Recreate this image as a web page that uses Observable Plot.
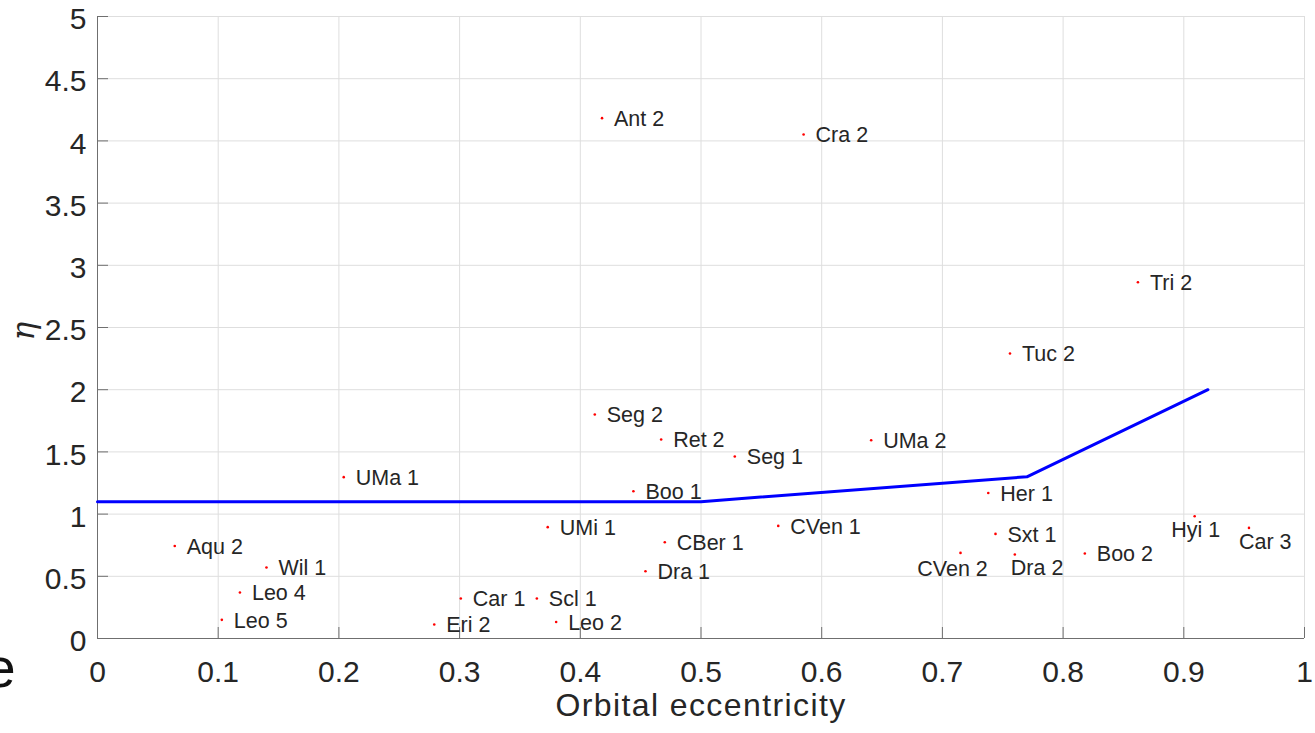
<!DOCTYPE html>
<html>
<head>
<meta charset="utf-8">
<script src="https://cdn.jsdelivr.net/npm/d3@7"></script>
<script src="https://cdn.jsdelivr.net/npm/@observablehq/plot@0.6"></script>
<style>
  html, body { margin: 0; padding: 0; background: #fff; }
  #chart svg { font-family: "Liberation Sans", Arial, Helvetica, sans-serif; display: block; }
</style>
</head>
<body>
<div id="chart"></div>
<script>
// Galaxy names, orbital eccentricity and eta values
const names = ["Aqu 2","Wil 1","Leo 4","Leo 5","Eri 2","Car 1","Scl 1","Leo 2","UMi 1","Dra 1","CBer 1","Boo 1","Seg 2","Ret 2","Seg 1","UMa 1","CVen 1","UMa 2","Ant 2","Cra 2","Tri 2","Tuc 2","Her 1","Sxt 1","CVen 2","Dra 2","Boo 2","Hyi 1","Car 3"];
const ecc   = [0.064,0.140,0.118,0.103,0.279,0.301,0.364,0.380,0.373,0.454,0.470,0.444,0.412,0.467,0.528,0.204,0.564,0.641,0.418,0.585,0.862,0.756,0.738,0.744,0.715,0.760,0.818,0.909,0.954];
const eta   = [0.744,0.571,0.370,0.150,0.113,0.322,0.322,0.133,0.895,0.541,0.774,1.184,1.801,1.600,1.463,1.297,0.905,1.594,4.183,4.051,2.864,2.291,1.170,0.841,0.688,0.675,0.683,0.983,0.889];

// Blue threshold curve
const curveEcc = [0, 0.5, 0.77, 0.92];
const curveEta = [1.1, 1.1, 1.3, 2.0];

// Axis ticks and labels
const xTicks = [0,0.1,0.2,0.3,0.4,0.5,0.6,0.7,0.8,0.9,1];
const xTickLabels = ["0","0.1","0.2","0.3","0.4","0.5","0.6","0.7","0.8","0.9","1"];
const yTicks = [0,0.5,1,1.5,2,2.5,3,3.5,4,4.5,5];
const yTickLabels = ["0","0.5","1","1.5","2","2.5","3","3.5","4","4.5","5"];
const xLabel = "Orbital eccentricity";
const yLabel = "η";
const strayText = "e";

const points = names.map((n, i) => ({name: n, e: ecc[i], eta: eta[i]}));
const curve = curveEcc.map((e, i) => ({e, eta: curveEta[i]}));

const special = ["CVen 2","Dra 2","Hyi 1","Car 3"];
const byName = n => points.filter(p => p.name === n);
const regular = points.filter(p => !special.includes(p.name));

const xFmt = d => xTickLabels[xTicks.indexOf(d)];
const yFmt = d => yTickLabels[yTicks.indexOf(d)];

const labelStyle = {x: "e", y: "eta", text: "name", fontSize: 21.5, fill: "#262626"};
const axisColor = "#6f6f6f";

const chart = Plot.plot({
  width: 1315,
  height: 733,
  marginLeft: 97,
  marginRight: 11,
  marginTop: 16,
  marginBottom: 95,
  x: {domain: [0, 1], label: null},
  y: {domain: [0, 5], label: null},
  marks: [
    Plot.gridX(xTicks, {stroke: "#dedede", strokeOpacity: 1}),
    Plot.gridY(yTicks, {stroke: "#dedede", strokeOpacity: 1}),
    Plot.ruleX([0], {stroke: axisColor}),
    Plot.ruleY([0], {stroke: axisColor}),
    Plot.axisX(xTicks, {tickSize: -11, text: null, stroke: axisColor, label: null}),
    Plot.axisY(yTicks, {tickSize: -11, text: null, stroke: axisColor, label: null}),
    Plot.axisX(xTicks, {tickSize: 0, tickPadding: 22, fontSize: 30, tickFormat: xFmt, fill: "#262626", label: null}),
    Plot.axisY(yTicks, {tickSize: 0, tickPadding: 11, fontSize: 30, tickFormat: yFmt, fill: "#262626", dy: 3, label: null}),
    Plot.line(curve, {x: "e", y: "eta", stroke: "#0000ff", strokeWidth: 3}),
    Plot.dot(points, {x: "e", y: "eta", r: 1.3, fill: "#ff0000", stroke: null}),
    Plot.text(regular, {...labelStyle, textAnchor: "start", dx: 12, dy: 1}),
    Plot.text(byName("CVen 2"), {...labelStyle, textAnchor: "middle", dx: -8, dy: 16}),
    Plot.text(byName("Dra 2"), {...labelStyle, textAnchor: "start", dx: -4, dy: 14}),
    Plot.text(byName("Hyi 1"), {...labelStyle, textAnchor: "middle", dx: 1, dy: 14}),
    Plot.text(byName("Car 3"), {...labelStyle, textAnchor: "start", dx: -10, dy: 14}),
    Plot.text([xLabel], {text: d => d, frameAnchor: "bottom", lineAnchor: "middle", dy: 67, fontSize: 32, fill: "#262626"}),
    Plot.text([yLabel], {text: d => d, frameAnchor: "left", lineAnchor: "middle", dx: -73, dy: 13, rotate: -90, fontSize: 31, fontStyle: "italic", fontFamily: "DejaVu Serif", fill: "#262626"}),
    Plot.text([strayText], {text: d => d, frameAnchor: "bottom-left", lineAnchor: "middle", dx: -113, dy: 31, fontSize: 56, textAnchor: "start", fill: "#111"})
  ]
});
d3.select(chart).selectAll("text")
  .filter(function() { return this.textContent === xLabel; })
  .style("letter-spacing", "1.4px");
document.getElementById("chart").appendChild(chart);
</script>
</body>
</html>
